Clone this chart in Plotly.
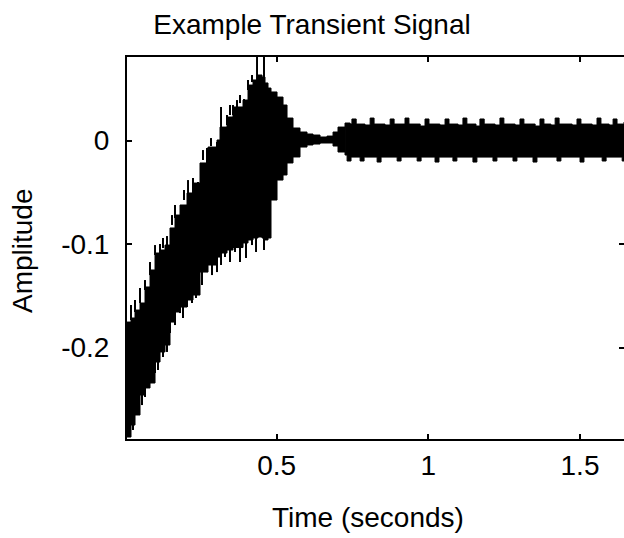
import plotly.graph_objects as go

# ---- data (time in s, amplitude) ----
# growing / transition part of the signal envelope
t_early = [0.0064, 0.0196, 0.0328, 0.0493, 0.0658, 0.0823, 0.0988, 0.1153, 0.1317,
           0.1482, 0.1647, 0.1812, 0.2043, 0.2241, 0.2471, 0.2735, 0.3032, 0.3131,
           0.3361, 0.3559, 0.3889, 0.4054, 0.4219, 0.4383, 0.4515, 0.4614, 0.4713,
           0.4812, 0.5010, 0.5208, 0.5340, 0.5537, 0.5768, 0.5999, 0.6197, 0.6428,
           0.6659, 0.6857, 0.7021, 0.7252]
upper_early = [-0.1754, -0.1715, -0.1638, -0.1570, -0.1415, -0.1251, -0.1087, -0.1058, -0.1010,
               -0.0845, -0.0720, -0.0623, -0.0507, -0.0411, -0.0217, -0.0063, 0.0005, 0.0130,
               0.0227, 0.0324, 0.0391, 0.0536, 0.0585, 0.0633, 0.0614, 0.0556, 0.0507,
               0.0469, 0.0420, 0.0343, 0.0217, 0.0121, 0.0082, 0.0063, 0.0053, 0.0034,
               0.0043, 0.0082, 0.0130, 0.0169]
lower_early = [-0.2865, -0.2749, -0.2652, -0.2459, -0.2391, -0.2343, -0.2140, -0.2043, -0.1976,
               -0.1754, -0.1657, -0.1609, -0.1541, -0.1493, -0.1271, -0.1203, -0.1126, -0.1087,
               -0.1058, -0.1034, -0.0990, -0.0961, -0.0942, -0.0932, -0.0942, -0.0961, -0.0942,
               -0.0575, -0.0382, -0.0333, -0.0217, -0.0159, -0.0063, -0.0043, -0.0034, -0.0024,
               -0.0024, -0.0053, -0.0111, -0.0140]

# steady-state part (upper and lower edges of the oscillation band)
t_upper_ss = [0.7252, 0.742, 0.748, 0.762, 0.791, 0.808, 0.821, 0.857, 0.874, 0.887, 0.923,
              0.936, 0.973, 0.989, 1.002, 1.038, 1.055, 1.068, 1.098, 1.114, 1.127,
              1.157, 1.170, 1.184, 1.220, 1.236, 1.249, 1.286, 1.302, 1.315, 1.352,
              1.368, 1.381, 1.404, 1.418, 1.431, 1.474, 1.490, 1.503, 1.540, 1.556,
              1.569, 1.596, 1.609, 1.622, 1.645]
v_upper_ss = [0.0169, 0.0159, 0.0208, 0.0159, 0.0150, 0.0217, 0.0159, 0.0150, 0.0208, 0.0159, 0.0217,
              0.0159, 0.0140, 0.0208, 0.0159, 0.0150, 0.0208, 0.0159, 0.0150, 0.0217, 0.0159,
              0.0140, 0.0208, 0.0159, 0.0150, 0.0217, 0.0159, 0.0150, 0.0208, 0.0159, 0.0140,
              0.0208, 0.0159, 0.0150, 0.0217, 0.0159, 0.0150, 0.0208, 0.0159, 0.0150, 0.0217,
              0.0159, 0.0150, 0.0208, 0.0159, 0.0179]
t_lower_ss = [0.7252, 0.732, 0.745, 0.775, 0.788, 0.831, 0.844, 0.897, 0.910, 0.963, 0.976,
              1.022, 1.035, 1.081, 1.094, 1.147, 1.160, 1.213, 1.226, 1.279, 1.292,
              1.345, 1.358, 1.424, 1.437, 1.500, 1.513, 1.573, 1.586, 1.639, 1.645]
v_lower_ss = [-0.0140, -0.0198, -0.0160, -0.0198, -0.0160, -0.0208, -0.0160, -0.0198, -0.0160, -0.0198, -0.0160,
              -0.0208, -0.0160, -0.0198, -0.0160, -0.0208, -0.0160, -0.0198, -0.0160, -0.0198, -0.0160,
              -0.0208, -0.0160, -0.0198, -0.0160, -0.0208, -0.0160, -0.0198, -0.0160, -0.0198, -0.0160]

# thin oscillation peaks sticking out of the band (time, tip, base)
spike_t = [0.2076, 0.2240, 0.2405, 0.2702, 0.3032, 0.3164, 0.3361, 0.3559, 0.3691,
           0.3922, 0.4054, 0.4351, 0.4581, 0.0196, 0.0493, 0.0823, 0.1152, 0.1383, 0.1647,
           0.0328, 0.0658, 0.0988, 0.1251, 0.1548, 0.1944, 0.2570, 0.2834, 0.3460, 0.3790, 0.4186,
           0.0658, 0.0889, 0.0987, 0.1251, 0.1482, 0.1812, 0.2043, 0.2207, 0.2702,
           0.3032, 0.3295, 0.3625, 0.3988, 0.4186, 0.4680,
           0.0262, 0.0427, 0.0559, 0.1086, 0.1383, 0.1647, 0.1911, 0.2339, 0.2537, 0.2867,
           0.3164, 0.3460, 0.3790, 0.4318, 0.4581]
spike_tip = [-0.0382, -0.0362, -0.0401, -0.0072, -0.0014, 0.0324, 0.0246, 0.0343, 0.0391,
             0.0401, 0.0585, 0.0807, 0.0807, -0.1589, -0.1425, -0.1174, -0.1000, -0.0923, -0.0623,
             -0.1541, -0.1348, -0.1010, -0.0942, -0.0720, -0.0478, -0.0092, 0.0024, 0.0343, 0.0440, 0.0633,
             -0.2478, -0.2343, -0.2246, -0.2092, -0.1860, -0.1667, -0.1609, -0.1570, -0.1271,
             -0.1271, -0.1126, -0.1077, -0.1135, -0.1010, -0.0961,
             -0.2797, -0.2652, -0.2556, -0.2217, -0.2043, -0.1783, -0.1715, -0.1522, -0.1396, -0.1300,
             -0.1203, -0.1174, -0.1174, -0.1077, -0.1058]
spike_base = [-0.0575, -0.0527, -0.0527, -0.0237, -0.0092, 0.0101, 0.0150, 0.0246, 0.0295,
              0.0295, 0.0488, 0.0585, 0.0536, -0.1734, -0.1570, -0.1300, -0.1106, -0.1039, -0.0749,
              -0.1657, -0.1444, -0.1106, -0.1039, -0.0816, -0.0575, -0.0188, -0.0053, 0.0246, 0.0362, 0.0565,
              -0.2362, -0.2266, -0.2121, -0.1976, -0.1734, -0.1522, -0.1473, -0.1473, -0.1174,
              -0.1106, -0.1058, -0.1019, -0.0990, -0.0942, -0.0913,
              -0.2681, -0.2507, -0.2430, -0.2082, -0.1928, -0.1657, -0.1580, -0.1396, -0.1251, -0.1174,
              -0.1087, -0.1048, -0.1010, -0.0942, -0.0942]

x_ticks = [0.5, 1, 1.5]
x_tick_text = ["0.5", "1", "1.5"]
y_ticks = [-0.2, -0.1, 0]
y_tick_text = ["-0.2", "-0.1", "0"]

x_range = [0.0064, 1.645]
y_range = [-0.2884, 0.0807]

FONT = "Liberation Sans, Arial, sans-serif"

fig = go.Figure()


def band(tu, vu, tl, vl, shape):
    fig.add_trace(go.Scatter(x=tu, y=vu, mode="lines", line=dict(color="black", width=1, shape=shape),
                             hoverinfo="skip", showlegend=False))
    fig.add_trace(go.Scatter(x=tl, y=vl, mode="lines", line=dict(color="black", width=1, shape=shape),
                             fill="tonexty", fillcolor="black", hoverinfo="skip", showlegend=False))


band(t_early, upper_early, t_early, lower_early, "hv")
band(t_upper_ss, v_upper_ss, t_lower_ss, v_lower_ss, "hv")

sx, sy = [], []
for t, a, b in zip(spike_t, spike_tip, spike_base):
    sx += [t, t, None]
    sy += [a, b, None]
fig.add_trace(go.Scatter(x=sx, y=sy, mode="lines", line=dict(color="black", width=2),
                         hoverinfo="skip", showlegend=False))
# invisible trace carrying the right-hand tick axis
fig.add_trace(go.Scatter(x=[x_range[0]], y=[y_range[0]], yaxis="y2", mode="markers",
                         marker=dict(opacity=0), hoverinfo="skip", showlegend=False))

fig.update_layout(
    width=624, height=538,
    margin=dict(l=127, r=0, t=57, b=99),
    paper_bgcolor="white", plot_bgcolor="white",
    font=dict(family=FONT, size=28, color="black"),
    title=dict(text="Example Transient Signal", x=0.5, xref="container", xanchor="center",
               y=1 - 24 / 538, yref="container", yanchor="middle",
               font=dict(family=FONT, size=28, color="black")),
    xaxis=dict(range=x_range, tickvals=x_ticks, ticktext=x_tick_text, ticks="inside", ticklen=5,
               tickwidth=1.5, tickcolor="black", showline=True, linecolor="black", linewidth=2,
               mirror="ticks", showgrid=False, zeroline=False),
    yaxis=dict(range=y_range, tickvals=y_ticks, ticktext=y_tick_text, ticks="inside", ticklen=5,
               tickwidth=1.5, tickcolor="black", showline=True, linecolor="black", linewidth=2,
               showgrid=False, zeroline=False, ticklabelstandoff=10),
    yaxis2=dict(range=y_range, tickvals=y_ticks, overlaying="y", side="right", ticks="inside",
                ticklen=5, tickwidth=1.5, tickcolor="black", showticklabels=False,
                showline=False, showgrid=False, zeroline=False),
    annotations=[
        dict(text="Time (seconds)", xref="paper", yref="paper", x=(368 - 127) / 497,
             y=-(517 - 439) / 382, xanchor="center", yanchor="middle", showarrow=False,
             font=dict(family=FONT, size=28, color="black")),
        dict(text="Amplitude", xref="paper", yref="paper", x=-(127 - 22) / 497,
             y=(439 - 251) / 382, xanchor="center", yanchor="middle", textangle=-90,
             showarrow=False, font=dict(family=FONT, size=28, color="black")),
    ],
)

fig.write_html("out.html")
